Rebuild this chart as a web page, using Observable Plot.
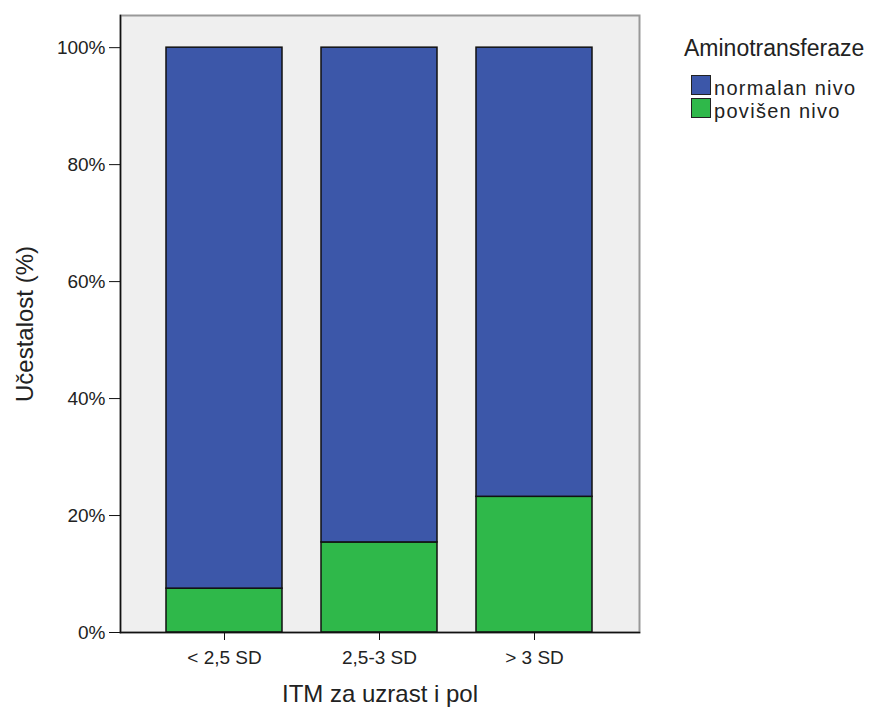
<!DOCTYPE html>
<html>
<head>
<meta charset="utf-8">
<script src="https://cdn.jsdelivr.net/npm/d3@7"></script>
<script src="https://cdn.jsdelivr.net/npm/@observablehq/plot@0.6"></script>
<style>
  body { margin: 0; background: #fff; font-family: "Liberation Sans", Arial, sans-serif; }
  #wrap { position: relative; width: 874px; height: 709px; }
  .lg { position: absolute; line-height: 23px; color: #222; white-space: nowrap; }
  .sw { position: absolute; width: 20px; height: 20px; border: 1.5px solid #222; box-sizing: border-box; }
</style>
</head>
<body>
<div id="wrap"></div>
<script>
const categories = ["< 2,5 SD", "2,5-3 SD", "> 3 SD"];
const series = ["normalan nivo", "povišen nivo"];
const povisen = [0.075, 0.154, 0.232];
const normalan = povisen.map(v => 1 - v);
const colors = ["#3c57a9", "#2fb84a"];
const yTicks = [0, 0.2, 0.4, 0.6, 0.8, 1.0];
const legendTitle = "Aminotransferaze";
const xTitle = "ITM za uzrast i pol";
const yTitle = "Učestalost (%)";

const data = [];
categories.forEach((c, i) => {
  data.push({cat: c, level: series[1], value: povisen[i]});
  data.push({cat: c, level: series[0], value: normalan[i]});
});

const chart = Plot.plot({
  width: 874,
  height: 709,
  marginLeft: 120,
  marginRight: 235,
  marginTop: 15,
  marginBottom: 77,
  style: {fontFamily: "'Liberation Sans', Arial, sans-serif", fontSize: "19px", color: "#222", background: "white"},
  x: {domain: categories, paddingInner: 0.25, paddingOuter: 0.29, label: null},
  y: {domain: [0, 1.055], label: null},
  color: {domain: series, range: colors},
  marks: [
    Plot.frame({fill: "#efefef", stroke: "#999", strokeWidth: 2}),
    Plot.barY(data, {x: "cat", y: "value", fill: "level", order: [series[1], series[0]], stroke: "#111", strokeWidth: 1.5}),
    Plot.frame({anchor: "left", stroke: "#111", strokeWidth: 1.5}),
    Plot.frame({anchor: "bottom", stroke: "#111", strokeWidth: 1.5}),
    Plot.axisY({ticks: yTicks, tickFormat: d => Math.round(d * 100) + "%", tickSize: 11, tickPadding: 4, fontSize: 19, label: null, stroke: "#111"}),
    Plot.axisX({tickSize: 8, tickPadding: 10, fontSize: 19, label: null, stroke: "#111"}),
    Plot.text([yTitle], {frameAnchor: "left", textAnchor: "middle", lineAnchor: "middle", dx: -95, rotate: -90, fontSize: 24, fill: "#222"}),
    Plot.text([xTitle], {frameAnchor: "bottom", lineAnchor: "middle", dy: 62, fontSize: 24, fill: "#222"})
  ]
});
const wrap = document.getElementById("wrap");
wrap.appendChild(chart);

function add(html, cls, style) {
  const el = document.createElement("div");
  el.className = cls;
  Object.assign(el.style, style);
  el.innerHTML = html;
  wrap.appendChild(el);
}
add(legendTitle, "lg", {left: "684px", top: "37px", fontSize: "23px"});
series.forEach((s, i) => {
  add("", "sw", {left: "691px", top: (75 + 23 * i) + "px", background: colors[i]});
  add(s, "lg", {left: "714px", top: (77 + 23 * i) + "px", fontSize: "20px", letterSpacing: "1.3px"});
});
</script>
</body>
</html>
